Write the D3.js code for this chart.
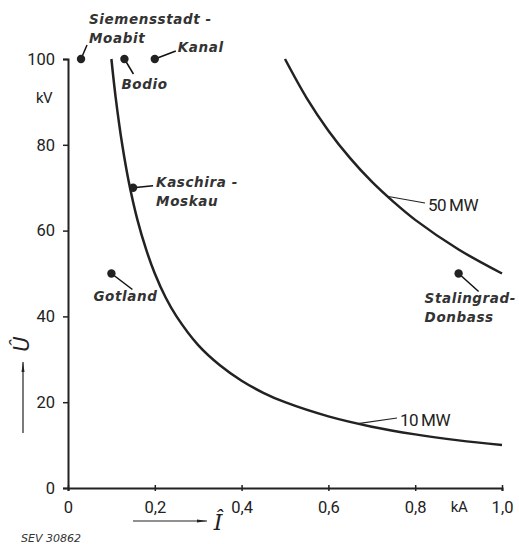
<!DOCTYPE html>
<html>
<head>
<meta charset="utf-8">
<script src="https://cdn.jsdelivr.net/npm/d3@7"></script>
<style>
  body { margin: 0; background: #fff; }
  svg { display: block; }
  .tick text { font-family: "Roboto", "Liberation Sans", sans-serif; font-size: 16.5px; fill: #222; }
  .place { font-family: "DejaVu Sans", sans-serif; font-style: italic; font-weight: bold; font-size: 13.5px; letter-spacing: 0.6px; fill: #333; }
  .curve-label { font-family: "Roboto", "Liberation Sans", sans-serif; font-size: 17px; fill: #222; letter-spacing: -0.5px; }
</style>
</head>
<body>
<div id="chart"></div>
<script>
// current in kA, voltage in kV
const curveNames = ["10 MW", "50 MW"];
const current10 = [0.1, 0.11, 0.125, 0.14, 0.16, 0.18, 0.2, 0.225, 0.25, 0.3, 0.35, 0.4, 0.45, 0.5, 0.6, 0.7, 0.8, 0.9, 1.0];
const voltage10 = [100, 90.9, 80, 71.4, 62.5, 55.6, 50, 44.4, 40, 33.3, 28.6, 25, 22.2, 20, 16.7, 14.3, 12.5, 11.1, 10];
const current50 = [0.5, 0.55, 0.6, 0.65, 0.7, 0.75, 0.8, 0.9, 1.0];
const voltage50 = [100, 90.9, 83.3, 76.9, 71.4, 66.7, 62.5, 55.6, 50];

const placeNames = [["Siemensstadt -", "Moabit"], ["Bodio"], ["Kanal"], ["Kaschira -", "Moskau"], ["Gotland"], ["Stalingrad-", "Donbass"]];
const placeCurrent = [0.03, 0.13, 0.2, 0.15, 0.1, 0.9];
const placeVoltage = [100, 100, 100, 70, 50, 50];

const xTicks = [0, 0.2, 0.4, 0.6, 0.8, 1.0];
const yTicks = [0, 20, 40, 60, 80, 100];

const width = 519, height = 544;

const svg = d3.select("#chart").append("svg")
    .attr("width", width)
    .attr("height", height);

const x = d3.scaleLinear().domain([0, 1]).range([68, 502]);
const y = d3.scaleLinear().domain([0, 100]).range([488, 59]);

const ink = "#222";

// x axis
const xAxis = svg.append("g")
    .attr("transform", `translate(0,${y(0)})`)
    .call(d3.axisBottom(x)
        .tickValues(xTicks)
        .tickSizeOuter(0)
        .tickSize(3)
        .tickPadding(8)
        .tickFormat(d => d === 0 ? "0" : d3.format(".1f")(d).replace(".", ",")));
xAxis.select(".domain").attr("stroke", ink).attr("stroke-width", 2);
xAxis.selectAll(".tick line").attr("y1", -3).attr("y2", 3).attr("stroke", ink).attr("stroke-width", 1.5);
xAxis.selectAll(".tick text").attr("dy", "0.85em");

// y axis
const yAxis = svg.append("g")
    .attr("transform", `translate(${x(0)},0)`)
    .call(d3.axisLeft(y)
        .tickValues(yTicks)
        .tickSizeOuter(0)
        .tickSize(5)
        .tickPadding(8));
yAxis.select(".domain").attr("stroke", ink).attr("stroke-width", 2);
yAxis.selectAll(".tick line").attr("stroke", ink).attr("stroke-width", 1.5);

// units
svg.append("text").attr("class", "curve-label")
    .attr("x", 44).attr("y", 98).attr("dy", "0.35em")
    .attr("text-anchor", "middle").style("font-size", "15px")
    .text("kV");
svg.append("text").attr("class", "curve-label")
    .attr("x", 459).attr("y", 507).attr("dy", "0.35em")
    .attr("text-anchor", "middle").style("font-size", "15px")
    .text("kA");

// arrow marker
svg.append("defs").append("marker")
    .attr("id", "arrow")
    .attr("viewBox", "0 0 10 6")
    .attr("refX", 10).attr("refY", 3)
    .attr("markerWidth", 22).attr("markerHeight", 6)
    .attr("markerUnits", "userSpaceOnUse")
    .attr("orient", "auto")
    .append("path")
    .attr("d", "M0,1.5 L10,3 L0,4.5 Z")
    .attr("fill", ink);

// axis titles with arrows
svg.append("line")
    .attr("x1", 23).attr("y1", 433).attr("x2", 23).attr("y2", 362)
    .attr("stroke", ink).attr("stroke-width", 1.2)
    .attr("marker-end", "url(#arrow)");
svg.append("text")
    .attr("transform", "translate(29,344) rotate(-90)")
    .attr("text-anchor", "middle")
    .style("font-family", "DejaVu Sans, sans-serif")
    .style("font-style", "italic")
    .style("font-size", "21px")
    .attr("fill", ink)
    .text("Û");

svg.append("line")
    .attr("x1", 133).attr("y1", 521).attr("x2", 207).attr("y2", 521)
    .attr("stroke", ink).attr("stroke-width", 1.2)
    .attr("marker-end", "url(#arrow)");
svg.append("text")
    .attr("x", 218).attr("y", 530)
    .attr("text-anchor", "middle")
    .style("font-family", "DejaVu Serif, serif")
    .style("font-style", "italic")
    .style("font-size", "22px")
    .attr("fill", ink)
    .text("Î");

// power curves
const line = d3.line()
    .x(d => x(d[0]))
    .y(d => y(d[1]))
    .curve(d3.curveCatmullRom.alpha(0.5));

const curves = [d3.zip(current10, voltage10), d3.zip(current50, voltage50)];
svg.selectAll(".power")
    .data(curves)
    .join("path")
    .attr("class", "power")
    .attr("d", line)
    .attr("fill", "none")
    .attr("stroke", ink)
    .attr("stroke-width", 2.5);

// curve labels with leaders
const curveLabelAt = [[0.668, 15], [0.735, 68]];
const curveLabelPos = [[400, 420], [428, 205]];
curveNames.forEach((name, i) => {
    const [lx, ly] = curveLabelPos[i];
    svg.append("line")
        .attr("x1", x(curveLabelAt[i][0])).attr("y1", y(curveLabelAt[i][1]))
        .attr("x2", lx - 3).attr("y2", ly - 2)
        .attr("stroke", ink).attr("stroke-width", 1.1);
    svg.append("text").attr("class", "curve-label")
        .attr("x", lx).attr("y", ly).attr("dy", "0.35em")
        .text(name.replace(" ", "\u2009"));
});

// transmission lines as points
const labelOffset = [[8, -40], [-3, 25], [23, -12], [23, -5], [-18, 23], [-34, 25]];
const leaderEnd = [[6, -14], [9, 15], [21, -8], [20, -2], [21, 16], [20, 18]];
const idx = d3.range(placeNames.length);

const labels = svg.selectAll("text.place")
    .data(idx)
    .join("text")
    .attr("class", "place")
    .attr("x", i => x(placeCurrent[i]) + labelOffset[i][0])
    .attr("y", i => y(placeVoltage[i]) + labelOffset[i][1]);
labels.selectAll("tspan")
    .data(i => placeNames[i].map(s => ({s, i})))
    .join("tspan")
    .attr("x", d => x(placeCurrent[d.i]) + labelOffset[d.i][0])
    .attr("dy", (d, j) => j === 0 ? "0.35em" : "1.4em")
    .text(d => d.s);

svg.selectAll("line.leader")
    .data(idx)
    .join("line")
    .attr("class", "leader")
    .attr("x1", i => x(placeCurrent[i]))
    .attr("y1", i => y(placeVoltage[i]))
    .attr("x2", i => x(placeCurrent[i]) + leaderEnd[i][0])
    .attr("y2", i => y(placeVoltage[i]) + leaderEnd[i][1])
    .attr("stroke", "#111")
    .attr("stroke-width", 1.5);

svg.selectAll("circle.station")
    .data(idx)
    .join("circle")
    .attr("class", "station")
    .attr("cx", i => x(placeCurrent[i]))
    .attr("cy", i => y(placeVoltage[i]))
    .attr("r", 4.2)
    .attr("fill", ink);

// figure code
svg.append("text")
    .attr("x", 21).attr("y", 538).attr("dy", "0.35em")
    .style("font-family", "DejaVu Sans, sans-serif")
    .style("font-style", "italic")
    .style("font-size", "11px")
    .attr("fill", "#333")
    .text("SEV 30862");
</script>
</body>
</html>
